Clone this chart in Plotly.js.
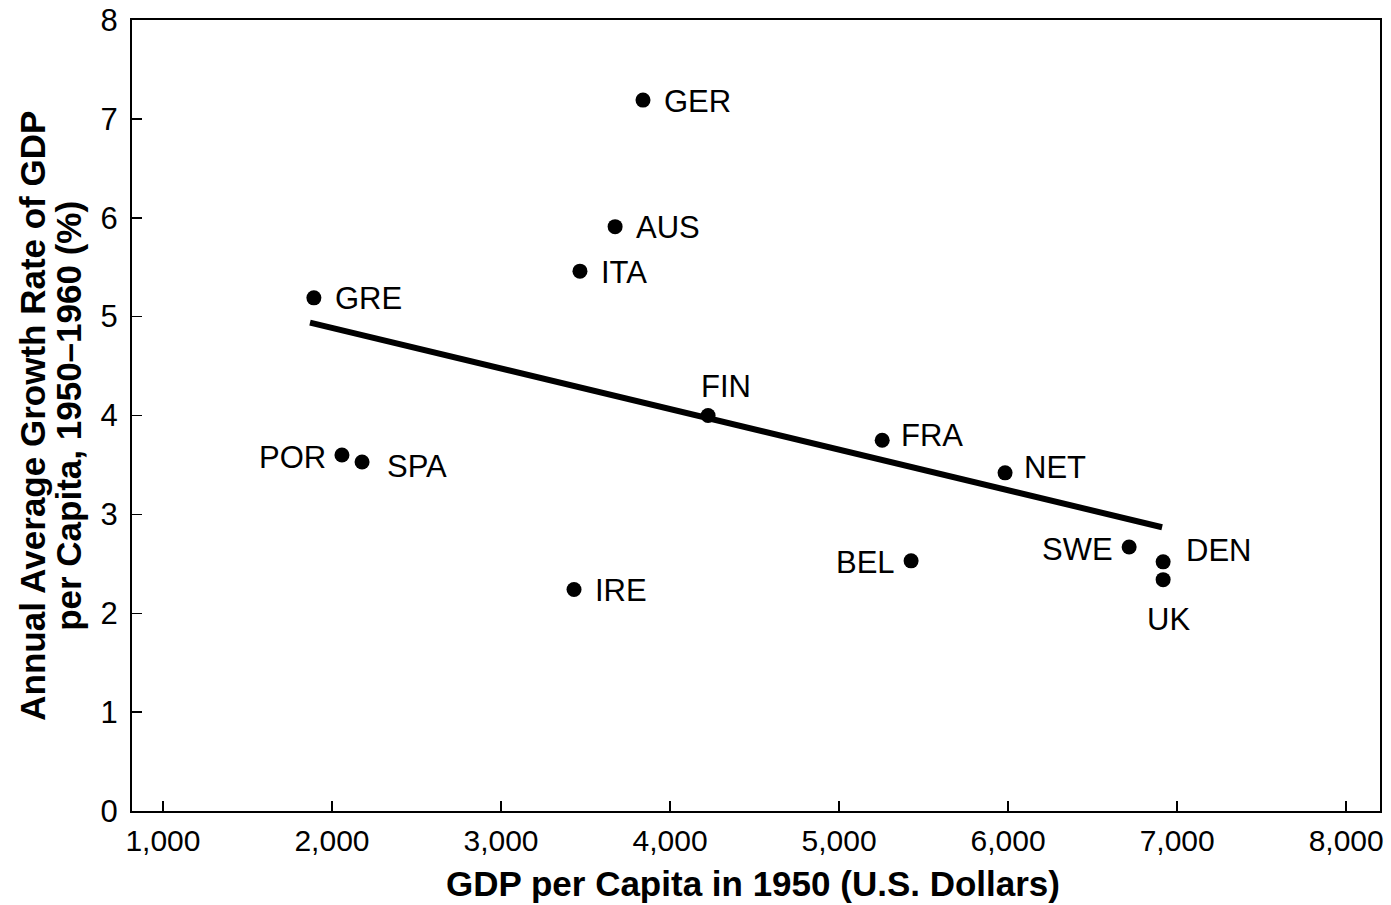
<!DOCTYPE html>
<html>
<head>
<meta charset="utf-8">
<script src="https://cdn.plot.ly/plotly-3.0.1.min.js"></script>
<style>html,body{margin:0;padding:0;background:#fff;}#chart{width:1391px;height:905px;}</style>
</head>
<body>
<div id="chart"></div>
<script>
// Data
const countries = ["GER","AUS","ITA","GRE","FIN","FRA","NET","POR","SPA","IRE","BEL","SWE","DEN","UK"];
const gdp1950   = [3840, 3675, 3467, 1893, 4225, 5255, 5982, 2059, 2178, 3432, 5426, 6716, 6917, 6917];
const growth    = [7.19, 5.91, 5.46, 5.19, 4.00, 3.75, 3.42, 3.60, 3.53, 2.24, 2.53, 2.67, 2.52, 2.34];
const labelSide = ["r","r","r","r","t","rt","rt","l","rb","r","l","l","rt2","b"];
const trendX = [1870, 6911];
const trendY = [4.94, 2.87];
const xTicks = [1000,2000,3000,4000,5000,6000,7000,8000];
const xTickText = ["1,000","2,000","3,000","4,000","5,000","6,000","7,000","8,000"];
const yTicks = [0,1,2,3,4,5,6,7,8];
const yTitleLines = ["Annual Average Growth Rate of GDP", "per Capita, 1950–1960 (%)"];
const xTitle = "GDP per Capita in 1950 (U.S. Dollars)";

const FONT = "Liberation Sans, Arial, Helvetica, sans-serif";

const sideStyle = {
  r:   {xanchor:"left",   yanchor:"middle", xshift:19,  yshift:-1},
  rb:  {xanchor:"left",   yanchor:"middle", xshift:23,  yshift:-5},
  rt:  {xanchor:"left",   yanchor:"middle", xshift:17,  yshift:5},
  rt2: {xanchor:"left",   yanchor:"middle", xshift:21,  yshift:11},
  l:   {xanchor:"right",  yanchor:"middle", xshift:-14, yshift:-2},
  t:   {xanchor:"center", yanchor:"bottom", xshift:18,  yshift:10},
  b:   {xanchor:"center", yanchor:"top",    xshift:5,   yshift:-20}
};

const annotations = countries.map((c,i)=>Object.assign({
  x: gdp1950[i], y: growth[i], xref:"x", yref:"y", text: c, showarrow:false,
  font:{family:FONT, size:31, color:"#000"}
}, sideStyle[labelSide[i]]));

// y-axis title as two rotated lines (tight line spacing as in the reference)
const yTitleX = [-0.080, -0.051];
yTitleLines.forEach((t,i)=>annotations.push({
  text:"<b>"+t+"</b>", xref:"paper", yref:"paper", x:yTitleX[i], y:0.5,
  xanchor:"center", yanchor:"middle", textangle:-90, showarrow:false,
  font:{family:FONT, size:35, color:"#000"}
}));
annotations.push({
  text:"<b>"+xTitle+"</b>", xref:"paper", yref:"paper", x:0.4975, y:-0.092,
  xanchor:"center", yanchor:"middle", showarrow:false,
  font:{family:FONT, size:35, color:"#000"}
});

const traces = [
  {x: trendX, y: trendY, mode:"lines", line:{color:"#000", width:6}, hoverinfo:"skip", showlegend:false},
  {x: gdp1950, y: growth, mode:"markers", marker:{color:"#000", size:15}, text: countries, showlegend:false}
];

const layout = {
  width:1391, height:905,
  margin:{l:132, r:11, t:20, b:94},
  paper_bgcolor:"#fff", plot_bgcolor:"#fff",
  font:{family:FONT, color:"#000"},
  showlegend:false,
  xaxis:{
    range:[817, 8200], tickvals:xTicks, ticktext:xTickText,
    showgrid:false, zeroline:false, showline:true, linecolor:"#000", linewidth:2, mirror:true,
    ticks:"inside", ticklen:10, tickwidth:1.5, tickcolor:"#000",
    tickfont:{family:FONT, size:30, color:"#000"},
    ticklabelstandoff:2
  },
  yaxis:{
    range:[0,8], tickvals:yTicks,
    showgrid:false, zeroline:false, showline:true, linecolor:"#000", linewidth:2, mirror:true,
    ticks:"inside", ticklen:10, tickwidth:1.5, tickcolor:"#000",
    tickfont:{family:FONT, size:31, color:"#000"},
    ticklabelstandoff:6
  },
  annotations: annotations
};

Plotly.newPlot("chart", traces, layout, {displayModeBar:false, staticPlot:true});
</script>
</body>
</html>
